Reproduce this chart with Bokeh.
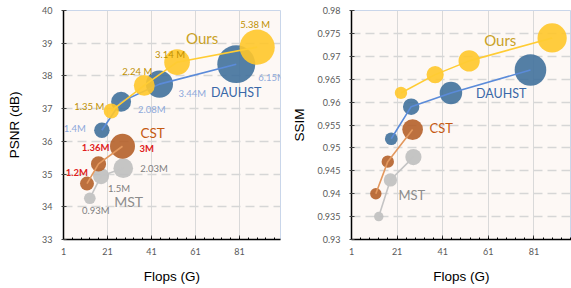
import numpy as np
from bokeh.plotting import figure
from bokeh.models import ColumnDataSource, FixedTicker, Range1d
from bokeh.layouts import row
from bokeh.core.properties import value
from bokeh.embed import file_html
from bokeh.resources import INLINE

# ---------------- data ----------------
ours_flops = [22.7, 37.7, 52.6, 89.0]
ours_psnr = [36.93, 37.71, 38.42, 38.88]
ours_ssim = [0.962, 0.966, 0.969, 0.974]
ours_params = [1.35, 2.24, 3.14, 5.38]
ours_labels = ["1.35 M", "2.24 M", "3.14 M", "5.38 M"]

dauhst_flops = [18.44, 27.17, 44.61, 79.50]
dauhst_psnr = [36.34, 37.21, 37.75, 38.36]
dauhst_ssim = [0.952, 0.959, 0.962, 0.967]
dauhst_params = [1.40, 2.08, 3.44, 6.15]
dauhst_labels = ["1.4M", "2.08M", "3.44M", "6.15M"]

cst_flops = [11.67, 16.91, 27.81]
cst_psnr = [34.71, 35.31, 35.85]
cst_ssim = [0.940, 0.947, 0.954]
cst_params = [1.20, 1.36, 3.00]
cst_labels = ["1.2M", "1.36M", "3M"]

mst_flops = [12.96, 18.07, 28.15]
mst_psnr = [34.26, 34.94, 35.18]
mst_ssim = [0.935, 0.943, 0.948]
mst_params = [0.93, 1.50, 2.03]
mst_labels = ["0.93M", "1.5M", "2.03M"]

x_ticks = [1, 21, 41, 61, 81]
x_tick_labels = ["1", "21", "41", "61", "81"]
psnr_ticks = [33, 34, 35, 36, 37, 38, 39, 40]
psnr_tick_labels = ["33", "34", "35", "36", "37", "38", "39", "40"]
ssim_ticks = [0.93, 0.935, 0.94, 0.945, 0.95, 0.955, 0.96, 0.965, 0.97, 0.975, 0.98]
ssim_tick_labels = ["0.93", "0.935", "0.94", "0.945", "0.95", "0.955", "0.96",
                    "0.965", "0.97", "0.975", "0.98"]

# ---------------- styles ----------------
FONT = "Lato"
fill_colors = {"Ours": "#FFC62A", "DAUHST": "#41719C", "CST": "#B5612A", "MST": "#BFBFBF"}
line_colors = {"Ours": "#FFCC33", "DAUHST": "#5B8BD9", "CST": "#E3985E", "MST": "#C4C4C4"}
param_colors = {"Ours": "#BF9000", "DAUHST": "#8EA9DB", "CST": "#E0201B", "MST": "#7F7F7F"}
name_colors = {"Ours": "#C9A227", "DAUHST": "#3A68A8", "CST": "#C55A11", "MST": "#8C8C8C"}

# label offsets (px) relative to their bubble, and alignment
param_offsets = {
    "Ours": ([-7, -7, -7, -2], [-4, -14, -8, -23], ["right", "center", "center", "center"]),
    "DAUHST": ([-16, 17, 19, 22], [-2, 8, 9, 13], ["right", "left", "left", "left"]),
    "CST": ([1, -3, 17], [-11, -16, 2], ["right", "center", "left"]),
    "MST": ([6, 7, 17], [12, 12, 0], ["center", "left", "left"]),
}


def make_panel(metric, y_ticks, y_tick_labels, y_lo, y_hi, x_hi, ylabel, width,
               border_left, border_right, border_bottom, size_k, size_c, show_params,
               name_specs):
    p = figure(width=width, height=288, output_backend="svg", toolbar_location=None,
               x_range=Range1d(1, x_hi), y_range=Range1d(y_lo, y_hi),
               min_border_left=border_left, min_border_right=border_right,
               min_border_top=10, min_border_bottom=border_bottom)
    p.background_fill_color = "#FDF8F5"
    p.border_fill_color = "white"
    p.outline_line_color = "#C9D6EA"
    p.outline_line_width = 1

    data = {
        "MST": (mst_flops, mst_psnr if metric == "psnr" else mst_ssim, mst_params, mst_labels),
        "CST": (cst_flops, cst_psnr if metric == "psnr" else cst_ssim, cst_params, cst_labels),
        "DAUHST": (dauhst_flops, dauhst_psnr if metric == "psnr" else dauhst_ssim, dauhst_params, dauhst_labels),
        "Ours": (ours_flops, ours_psnr if metric == "psnr" else ours_ssim, ours_params, ours_labels),
    }

    for name in ["MST", "CST", "DAUHST", "Ours"]:
        fx, fy, prm, lab = data[name]
        src = ColumnDataSource(dict(x=fx, y=fy,
                                    size=[size_k * np.sqrt(v) - size_c for v in prm]))
        p.scatter("x", "y", size="size", source=src, fill_color=fill_colors[name],
                  fill_alpha=0.9, line_color=None)
        p.line("x", "y", source=src, line_color=line_colors[name], line_width=1.6)

    if show_params:
        for name in ["MST", "CST", "DAUHST", "Ours"]:
            fx, fy, prm, lab = data[name]
            dx, dy, al = param_offsets[name]
            for al_kind in ["left", "center", "right"]:
                idx = [i for i in range(len(fx)) if al[i] == al_kind]
                if not idx:
                    continue
                s = ColumnDataSource(dict(x=[fx[i] for i in idx], y=[fy[i] for i in idx],
                                          t=[lab[i] for i in idx],
                                          dx=[dx[i] for i in idx], dy=[dy[i] for i in idx]))
                p.text("x", "y", text="t", source=s, x_offset="dx", y_offset="dy",
                       text_align=al_kind, text_baseline="middle",
                       text_font=value(FONT), text_font_size="9.5px",
                       text_color=param_colors[name],
                       text_font_style="bold" if name == "CST" else "normal")

    for name, idx, dx, dy, al, fs in name_specs:
        fx, fy, prm, lab = data[name]
        s = ColumnDataSource(dict(x=[fx[idx]], y=[fy[idx]], t=[name]))
        p.text("x", "y", text="t", source=s, x_offset=dx, y_offset=dy,
               text_align=al, text_baseline="middle", text_font=value(FONT),
               text_font_size=fs, text_color=name_colors[name])

    # axes
    p.xaxis.ticker = FixedTicker(ticks=x_ticks, minor_ticks=list(range(1, 100, 4)))
    p.xaxis.major_label_overrides = dict(zip(x_ticks, x_tick_labels))
    p.yaxis.ticker = FixedTicker(ticks=y_ticks, minor_ticks=[])
    p.yaxis.major_label_overrides = dict(zip(y_ticks, y_tick_labels))
    for ax in (p.xaxis, p.yaxis):
        ax.axis_line_color = "black"
        ax.axis_line_width = 1.5
        ax.major_tick_line_color = "#404040"
        ax.minor_tick_line_color = "black"
        ax.major_label_text_color = "#595959"
        ax.major_label_text_font = FONT
        ax.major_label_text_font_size = "9px"
        ax.axis_label_text_font = "Liberation Sans"
        ax.axis_label_text_font_size = "13.5px"
        ax.axis_label_text_font_style = "normal"
        ax.axis_label_text_color = "black"
    p.xaxis.major_tick_in = 4
    p.xaxis.major_tick_out = 0
    p.xaxis.minor_tick_in = 2
    p.xaxis.minor_tick_out = 0
    p.xaxis.major_label_standoff = 8
    p.xaxis.axis_label = "Flops (G)"
    p.xaxis.axis_label_standoff = 11
    p.yaxis.major_tick_in = 3
    p.yaxis.major_tick_out = 2
    p.yaxis.major_label_standoff = 9
    p.yaxis.axis_label = ylabel

    p.xgrid.grid_line_color = "#D9D9D9"
    p.xgrid.grid_line_width = 1
    p.ygrid.grid_line_color = "#D6D6D6"
    p.ygrid.grid_line_width = 1.5
    p.ygrid.grid_line_dash = "9 5"
    return p


left = make_panel("psnr", psnr_ticks, psnr_tick_labels, 33, 40, 99.6, "PSNR (dB)",
                  285, 63, 5, 49, 17.3, 5.0, True,
                  [("Ours", 2, 9, -24, "left", "15px"),
                   ("DAUHST", 3, 0, 28, "center", "12.5px"),
                   ("CST", 2, 18, -13, "left", "13.5px"),
                   ("MST", 2, -9, 33, "left", "14px")])
left.yaxis.axis_label_standoff = 17

right = make_panel("ssim", ssim_ticks, ssim_tick_labels, 0.93, 0.98, 97.5, "SSIM",
                   286, 66, 0, 47, 14.6, 4.6, False,
                   [("Ours", 2, 15, -21, "left", "15px"),
                    ("DAUHST", 2, 25, 1, "left", "12.5px"),
                    ("CST", 2, 17, -2, "left", "13px"),
                    ("MST", 1, 8, 15, "left", "13px")])
right.yaxis.axis_label_standoff = 7

layout = row(left, right)
open("out.html", "w").write(file_html(layout, INLINE))
